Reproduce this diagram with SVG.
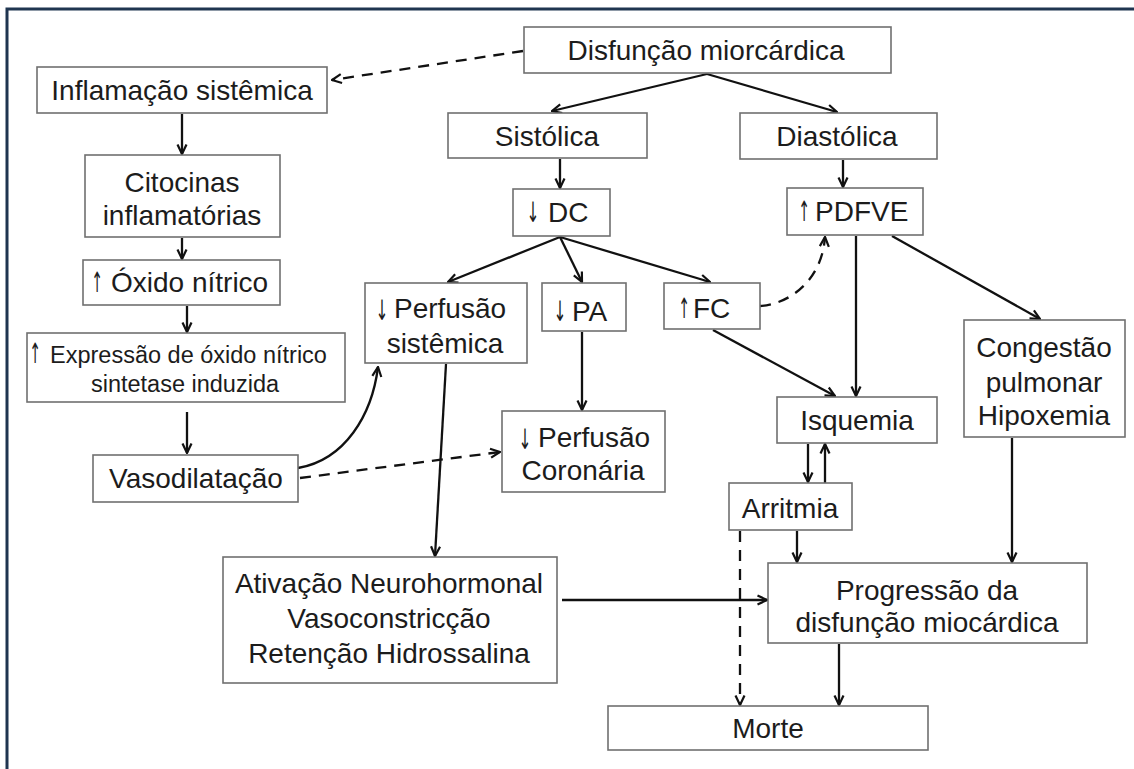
<svg xmlns="http://www.w3.org/2000/svg" width="1134" height="769" viewBox="0 0 1134 769">
<style>
.box{fill:#fff;stroke:#707070;stroke-width:1.6}
.t{font-family:"Liberation Sans",Arial,sans-serif;font-size:28px;fill:#1c1c1c;text-anchor:middle}
.l{text-anchor:start}
.s{font-size:23.5px}
.ar{font-family:"DejaVu Sans",sans-serif;font-size:28px;fill:#1c1c1c;text-anchor:middle}
.c{fill:none;stroke:#111;stroke-width:2.3}
.d{stroke-dasharray:11,8}
</style>
<defs>
<marker id="ah" viewBox="0 0 12 12" refX="11" refY="6" markerWidth="12" markerHeight="12" markerUnits="userSpaceOnUse" orient="auto">
<path d="M1.5,1.5 L11,6 L1.5,10.5" fill="none" stroke="#111" stroke-width="2.2"/>
</marker>
</defs>
<rect width="1134" height="769" fill="#fff"/>
<path d="M7,769 V9 H1134" fill="none" stroke="#1f3550" stroke-width="3"/>

<g id="connectors">
<path class="c d" d="M523,51 L332,80" marker-end="url(#ah)"/>
<path class="c" d="M707,74 L552,111" marker-end="url(#ah)"/>
<path class="c" d="M707,74 L837,112" marker-end="url(#ah)"/>
<path class="c" d="M182,114 L182,154" marker-end="url(#ah)"/>
<path class="c" d="M182,238 L182,259" marker-end="url(#ah)"/>
<path class="c" d="M187,306 L187,332" marker-end="url(#ah)"/>
<path class="c" d="M187,412 L187,453" marker-end="url(#ah)"/>
<path class="c" d="M560,159 L560,188" marker-end="url(#ah)"/>
<path class="c" d="M843,160 L843,187" marker-end="url(#ah)"/>
<path class="c" d="M560,237 L448,282" marker-end="url(#ah)"/>
<path class="c" d="M560,237 L582,282" marker-end="url(#ah)"/>
<path class="c" d="M560,237 L710,282" marker-end="url(#ah)"/>
<path class="c d" d="M760,306 C790,304 822,280 825,237" marker-end="url(#ah)"/>
<path class="c" d="M856,236 L856,396" marker-end="url(#ah)"/>
<path class="c" d="M892,236 L1040,319" marker-end="url(#ah)"/>
<path class="c" d="M713,330 L835,396" marker-end="url(#ah)"/>
<path class="c" d="M582,332 L582,410" marker-end="url(#ah)"/>
<path class="c" d="M446,364 L435,556" marker-end="url(#ah)"/>
<path class="c" d="M298,468 C345,460 372,415 378,367" marker-end="url(#ah)"/>
<path class="c d" d="M300,478 L500,452" marker-end="url(#ah)"/>
<path class="c" d="M808,444 L808,482" marker-end="url(#ah)"/>
<path class="c" d="M825,483 L825,444" marker-end="url(#ah)"/>
<path class="c" d="M797,531 L797,562" marker-end="url(#ah)"/>
<path class="c d" d="M740,531 L740,705" marker-end="url(#ah)"/>
<path class="c" d="M562,600 L767,600" marker-end="url(#ah)"/>
<path class="c" d="M1012,438 L1012,562" marker-end="url(#ah)"/>
<path class="c" d="M839,644 L839,705" marker-end="url(#ah)"/>
</g>

<g id="disfuncao"><rect class="box" x="524" y="27" width="367" height="46"/><text class="t" x="706" y="60">Disfunção miorcárdica</text></g>
<g id="inflamacao"><rect class="box" x="37" y="67" width="290" height="46"/><text class="t" x="182" y="100">Inflamação sistêmica</text></g>
<g id="sistolica"><rect class="box" x="448" y="113" width="199" height="45"/><text class="t" x="547" y="146">Sistólica</text></g>
<g id="diastolica"><rect class="box" x="740" y="113" width="197" height="46"/><text class="t" x="837" y="146">Diastólica</text></g>
<g id="citocinas"><rect class="box" x="85" y="155" width="195" height="82"/><text class="t" x="182" y="192">Citocinas</text><text class="t" x="182" y="225">inflamatórias</text></g>
<g id="dc"><rect class="box" x="513" y="189" width="97" height="47"/><text class="ar" transform="translate(533,222) scale(0.55,1)">↓</text><text class="t l" x="548" y="222">DC</text></g>
<g id="pdfve"><rect class="box" x="787" y="188" width="136" height="47"/><text class="ar" transform="translate(804,221) scale(0.5,1)">↑</text><text class="t l" x="815" y="221">PDFVE</text></g>
<g id="oxido"><rect class="box" x="83" y="260" width="197" height="45"/><text class="ar" transform="translate(97,292) scale(0.5,1)">↑</text><text class="t l" x="111" y="292">Óxido nítrico</text></g>
<g id="perfusao-sistemica"><rect class="box" x="365" y="283" width="162" height="80"/><text class="ar" transform="translate(382,320) scale(0.55,1)">↓</text><text class="t" x="450" y="318">Perfusão</text><text class="t" x="445" y="353">sistêmica</text></g>
<g id="pa"><rect class="box" x="542" y="283" width="84" height="48"/><text class="ar" transform="translate(560,321) scale(0.55,1)">↓</text><text class="t l" x="572" y="321">PA</text></g>
<g id="fc"><rect class="box" x="664" y="283" width="96" height="46"/><text class="ar" transform="translate(684,318) scale(0.5,1)">↑</text><text class="t l" x="693" y="318">FC</text></g>
<g id="congestao"><rect class="box" x="964" y="320" width="161" height="117"/><text class="t" x="1044" y="357">Congestão</text><text class="t" x="1044" y="392">pulmonar</text><text class="t" x="1044" y="425">Hipoxemia</text></g>
<g id="expressao"><rect class="box" x="27" y="333" width="318" height="69"/><text class="ar s" transform="translate(35,363) scale(0.5,1)">↑</text><text class="t s l" x="50" y="363">Expressão de óxido nítrico</text><text class="t s" x="185" y="392">sintetase induzida</text></g>
<g id="isquemia"><rect class="box" x="777" y="397" width="160" height="46"/><text class="t" x="857" y="430">Isquemia</text></g>
<g id="perfusao-coronaria"><rect class="box" x="502" y="411" width="163" height="81"/><text class="ar" transform="translate(525,449) scale(0.55,1)">↓</text><text class="t" x="594" y="447">Perfusão</text><text class="t" x="583" y="480">Coronária</text></g>
<g id="vasodilatacao"><rect class="box" x="93" y="455" width="205" height="47"/><text class="t" x="196" y="488">Vasodilatação</text></g>
<g id="arritmia"><rect class="box" x="729" y="483" width="123" height="47"/><text class="t" x="790" y="518">Arritmia</text></g>
<g id="ativacao"><rect class="box" x="223" y="557" width="334" height="126"/><text class="t" x="389" y="593">Ativação Neurohormonal</text><text class="t" x="389" y="628">Vasoconstricção</text><text class="t" x="389" y="663">Retenção Hidrossalina</text></g>
<g id="progressao"><rect class="box" x="768" y="563" width="319" height="80"/><text class="t" x="927" y="600">Progressão da</text><text class="t" x="927" y="632">disfunção miocárdica</text></g>
<g id="morte"><rect class="box" x="608" y="706" width="320" height="44"/><text class="t" x="768" y="738">Morte</text></g>
</svg>
